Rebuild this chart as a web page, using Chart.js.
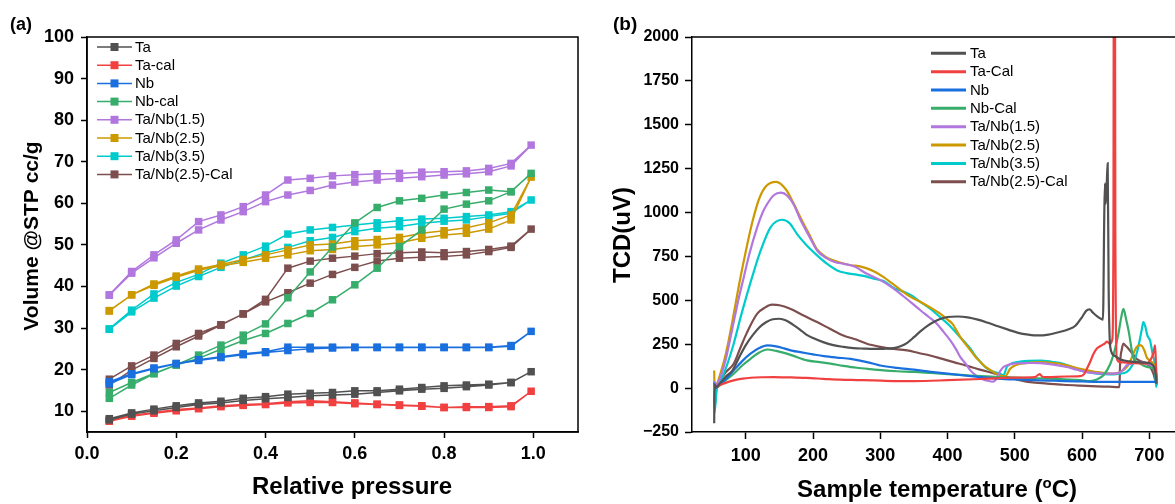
<!DOCTYPE html>
<html>
<head>
<meta charset="utf-8">
<script src="https://cdn.jsdelivr.net/npm/chart.js@4.4.0/dist/chart.umd.min.js"></script>
<style>
html, body { margin: 0; padding: 0; overflow: hidden; background: #fff; width: 1175px; height: 504px; }
#boxA { position: absolute; left: 0; top: 0; width: 600px; height: 504px; }
#boxB { position: absolute; left: 600px; top: 0; width: 600px; height: 504px; }
</style>
</head>
<body>
<div id="boxA"><canvas id="chartA" width="600" height="504"></canvas></div>
<div id="boxB"><canvas id="chartB" width="600" height="504"></canvas></div>
<script>
// ---------- panel (a): N2 isotherms ----------
const pAds = [0.05, 0.10, 0.15, 0.20, 0.25, 0.30, 0.35, 0.40, 0.45, 0.50, 0.55, 0.60, 0.65, 0.70, 0.75, 0.80, 0.85, 0.90, 0.95, 0.995];
const pDes = [0.95, 0.90, 0.85, 0.80, 0.75, 0.70, 0.65, 0.60, 0.55, 0.50, 0.45, 0.40, 0.35, 0.30, 0.25, 0.20, 0.15, 0.10, 0.05];

const namesA = ['Ta', 'Ta-cal', 'Nb', 'Nb-cal', 'Ta/Nb(1.5)', 'Ta/Nb(2.5)', 'Ta/Nb(3.5)', 'Ta/Nb(2.5)-Cal'];
const xTicksA = [0, 0.2, 0.4, 0.6, 0.8, 1.0];
const yTicksA = [10, 20, 30, 40, 50, 60, 70, 80, 90, 100];

const taAds = [7.9, 9.3, 10.1, 10.9, 11.6, 12.0, 12.6, 13.0, 13.3, 13.7, 13.9, 14.1, 14.5, 14.9, 15.3, 15.5, 15.9, 16.3, 16.9, 19.5];
const taDes = [16.9, 16.5, 16.3, 16.1, 15.7, 15.3, 14.9, 14.9, 14.5, 14.3, 14.1, 13.5, 13.1, 12.4, 12.0, 11.3, 10.5, 9.6, 8.2];
const taCalAds = [7.6, 8.8, 9.5, 10.1, 10.6, 11.1, 11.4, 11.6, 12.0, 12.1, 12.1, 11.8, 11.6, 11.4, 11.2, 10.9, 10.9, 10.9, 11.1, 14.8];
const taCalDes = [11.3, 11.1, 11.1, 10.9, 11.3, 11.5, 11.7, 12.0, 12.3, 12.5, 12.3, 11.8, 11.6, 11.3, 10.8, 10.4, 9.7, 9.0, 7.7];
const nbAds = [16.6, 18.8, 20.2, 21.4, 22.2, 22.9, 23.6, 24.1, 24.6, 25.0, 25.2, 25.3, 25.3, 25.3, 25.3, 25.3, 25.3, 25.3, 25.6, 29.2];
const nbDes = [25.8, 25.4, 25.4, 25.4, 25.4, 25.4, 25.4, 25.4, 25.4, 25.4, 25.4, 24.3, 23.8, 23.1, 22.4, 21.5, 20.4, 19.0, 17.1];
const nbCalAds = [13.1, 16.3, 19.0, 21.1, 22.7, 24.9, 27.0, 28.7, 31.1, 33.5, 36.8, 40.4, 44.4, 49.6, 53.6, 58.6, 59.8, 60.6, 62.8, 67.2];
const nbCalDes = [62.8, 63.2, 62.6, 62.0, 61.2, 60.6, 59.0, 55.3, 49.5, 43.5, 37.3, 31.0, 28.3, 25.9, 23.5, 21.1, 19.1, 16.9, 14.5];
const tn15Ads = [37.9, 43.2, 46.9, 50.4, 53.6, 56.0, 58.0, 60.4, 62.0, 63.1, 64.4, 65.1, 65.6, 66.0, 66.4, 66.8, 67.1, 67.6, 69.0, 74.0];
const tn15Des = [69.6, 68.4, 67.8, 67.6, 67.5, 67.2, 67.1, 66.9, 66.6, 66.0, 65.6, 62.0, 59.2, 57.2, 55.6, 51.2, 47.6, 43.6, 38.0];
const tn25Ads = [34.1, 38.0, 40.3, 42.2, 43.9, 45.0, 45.8, 46.8, 47.6, 48.6, 48.9, 49.6, 50.0, 50.5, 51.6, 52.4, 52.8, 53.8, 56.0, 66.3];
const tn25Des = [57.2, 55.3, 54.1, 53.4, 52.8, 51.8, 51.3, 51.0, 50.2, 50.0, 48.8, 47.6, 46.5, 45.3, 44.2, 42.5, 40.6, 38.0, 34.2];
const tn35Ads = [29.7, 33.9, 37.2, 40.1, 42.4, 44.6, 46.4, 48.1, 49.4, 51.0, 51.8, 53.2, 54.0, 54.4, 55.2, 55.7, 56.0, 56.8, 57.6, 60.8];
const tn35Des = [58.0, 57.2, 56.8, 56.4, 56.2, 55.8, 55.3, 54.8, 54.2, 53.6, 52.6, 49.7, 47.6, 45.6, 42.9, 41.0, 38.2, 34.3, 29.8];
const tn25CalAds = [16.3, 19.9, 22.7, 25.5, 28.1, 30.7, 33.4, 36.3, 38.5, 40.8, 42.9, 44.6, 46.1, 46.8, 47.0, 47.2, 47.6, 48.4, 49.4, 53.8];
const tn25CalDes = [49.7, 48.9, 48.4, 48.1, 48.3, 48.1, 47.9, 47.3, 46.8, 46.1, 44.4, 36.9, 33.4, 30.8, 28.7, 26.3, 23.5, 20.9, 17.7];

// ---------- panel (b): TPD curves ----------
const namesB = ['Ta', 'Ta-Cal', 'Nb', 'Nb-Cal', 'Ta/Nb(1.5)', 'Ta/Nb(2.5)', 'Ta/Nb(3.5)', 'Ta/Nb(2.5)-Cal'];
const xTicksB = [100, 200, 300, 400, 500, 600, 700];
const yTicksB = [-250, 0, 250, 500, 750, 1000, 1250, 1500, 1750, 2000];

const tTa = [53, 53.5, 56, 60, 70, 80, 90, 100, 110, 120, 130, 140, 150, 160, 170, 180, 190, 200, 215, 230, 245, 260, 275, 290, 305, 320, 330, 340, 350, 360, 370, 380, 390, 400, 415, 430, 445, 460, 475, 490, 505, 520, 535, 550, 565, 580, 590, 600, 606, 611, 616, 622, 628, 631, 633, 634, 635, 636.5, 638, 639.5, 642, 648, 656, 670, 686, 700, 708, 711];
const vTa = [-200, 20, 5, 20, 65, 100, 175, 245, 300, 345, 375, 392, 395, 385, 362, 335, 305, 285, 262, 245, 235, 228, 225, 223, 224, 228, 238, 258, 290, 325, 355, 378, 395, 405, 408, 403, 390, 372, 352, 333, 315, 305, 300, 305, 318, 335, 355, 405, 440, 448, 430, 410, 395, 390, 1000, 1167, 1050, 1150, 1281, 550, 230, 185, 165, 152, 147, 142, 110, 25];

const tTaCal = [53, 55, 60, 70, 82, 95, 107, 125, 142, 165, 190, 215, 240, 265, 290, 320, 350, 400, 450, 500, 530, 537, 541, 548, 575, 597, 603, 607, 612, 617, 622, 629, 634, 637, 641.5, 645, 646.6, 647.3, 648.6, 649.4, 651.5, 656, 676, 696, 703, 706, 708.5, 710, 711];
const vTaCal = [10, 5, 15, 30, 44, 54, 59, 62, 63, 61, 58, 53, 48, 46, 44, 40, 40, 45, 52, 60, 63, 80, 65, 63, 66, 68, 80, 110, 150, 196, 225, 243, 255, 265, 251, 280, 900, 3000, 3000, 900, 170, 148, 142, 140, 170, 200, 243, 120, 43];

const tNb = [53, 55, 60, 70, 82, 95, 107, 120, 132, 145, 157, 170, 181, 200, 216, 235, 256, 275, 290, 300, 325, 350, 375, 400, 425, 450, 475, 500, 525, 550, 575, 600, 625, 650, 675, 700, 708, 711];
const vNb = [30, 0, 15, 50, 101, 155, 196, 228, 243, 238, 226, 212, 205, 192, 182, 174, 167, 152, 139, 129, 115, 105, 93, 82, 72, 63, 54, 49, 46, 43, 40, 38, 36, 36, 36, 36, 36, 27];

const tNbCal = [53, 55, 60, 70, 82, 95, 107, 120, 132, 145, 157, 170, 191, 210, 226, 245, 265, 285, 305, 325, 350, 375, 400, 425, 450, 475, 500, 525, 550, 575, 597, 612, 622, 632, 642, 648, 654, 658, 661.4, 665, 669, 676, 684, 691, 700, 706, 711];
const vNbCal = [20, 0, 12, 45, 82, 130, 167, 203, 220, 212, 201, 185, 158, 148, 139, 127, 116, 108, 101, 96, 92, 86, 80, 74, 68, 63, 60, 57, 54, 50, 46, 40, 49, 75, 139, 210, 310, 400, 452, 400, 329, 177, 145, 129, 118, 110, 54];

const tTn15 = [53, 53.5, 57, 62, 70, 80, 90, 97, 105, 117, 125, 132, 142, 152, 162, 172, 181, 195, 206, 220, 232, 246, 260, 280, 300, 315, 330, 345, 360, 372, 384, 394, 404, 412, 419, 427, 434, 441, 449, 458, 468, 471, 474, 478, 483, 490, 498, 510, 525, 538, 555, 577, 592, 607, 622, 637, 650, 657, 662, 666, 674, 681, 689, 696, 703, 706, 709, 711];
const vTn15 = [40, 10, 20, 60, 160, 340, 520, 632, 760, 917, 1000, 1050, 1100, 1113, 1095, 1040, 960, 860, 784, 740, 718, 708, 695, 651, 615, 580, 537, 490, 442, 405, 367, 320, 272, 225, 177, 138, 101, 75, 54, 44, 37, 45, 63, 95, 120, 132, 139, 142, 143, 142, 135, 120, 105, 91, 85, 82, 84, 91, 110, 129, 140, 148, 147, 140, 130, 120, 100, 60];

const tTn25 = [53, 53.5, 57, 62, 70, 80, 90, 100, 110, 120, 130, 145, 160, 170, 181, 195, 206, 220, 231, 245, 256, 268, 280, 293, 305, 318, 330, 345, 360, 375, 389, 400, 407, 413, 419, 427, 434, 441, 449, 456, 464, 471, 478, 486, 490, 493, 500, 508, 522, 538, 552, 567, 582, 597, 610, 622, 634, 647, 656, 664, 671, 676, 681, 685, 689, 693, 696, 701, 706, 709, 711];
const vTn25 = [100, 0, 20, 80, 190, 380, 590, 780, 950, 1080, 1150, 1175, 1130, 1060, 974, 870, 790, 745, 727, 710, 700, 695, 682, 660, 632, 595, 560, 520, 490, 458, 424, 390, 367, 330, 290, 250, 215, 180, 148, 122, 101, 85, 72, 68, 90, 110, 128, 139, 145, 148, 145, 139, 125, 110, 100, 91, 86, 82, 91, 110, 148, 195, 233, 245, 240, 210, 176, 155, 140, 110, 63];

const tTn35 = [53, 53.5, 57, 62, 70, 82, 92, 102, 112, 122, 137, 154, 165, 176, 190, 206, 220, 236, 250, 265, 280, 290, 305, 320, 330, 345, 360, 375, 389, 402, 414, 424, 434, 441, 449, 456, 464, 471, 478, 483, 488, 495, 503, 520, 538, 555, 572, 585, 597, 610, 622, 634, 647, 656, 666, 673, 678, 682, 686, 689, 691, 694, 697, 701, 705, 708.5, 710, 711];
const vTn35 = [40, -142, 10, 40, 110, 253, 400, 537, 665, 783, 917, 959, 940, 879, 815, 756, 710, 670, 655, 646, 635, 623, 610, 570, 556, 530, 490, 450, 404, 360, 310, 268, 224, 185, 148, 120, 101, 90, 82, 72, 120, 140, 148, 155, 157, 150, 139, 120, 101, 90, 82, 79, 78, 82, 91, 120, 160, 210, 280, 340, 376, 350, 300, 272, 190, 120, 6, 60];

const tTn25Cal = [53, 53.5, 57, 62, 70, 82, 92, 102, 117, 129, 139, 150, 166, 185, 206, 225, 245, 265, 280, 300, 315, 340, 357, 374, 391, 409, 428, 448, 468, 488, 505, 523, 548, 572, 597, 622, 640, 655.5, 656.5, 659, 661.4, 665, 669, 675, 681, 688, 696, 702, 706, 709, 711];
const vTn25Cal = [30, -110, 15, 45, 90, 139, 230, 319, 424, 460, 475, 472, 452, 415, 376, 338, 300, 275, 253, 235, 225, 215, 200, 186, 168, 148, 128, 105, 85, 63, 47, 34, 26, 19, 14, 10, 8, 6, 140, 220, 253, 240, 224, 195, 167, 152, 140, 115, 82, 40, 15];

// ---------- styles ----------
const colors = ['#515151', '#F14040', '#1A6FDF', '#37AD6B', '#B177DE', '#CC9900', '#00CBCC', '#7D4E4E'];
const FONT = 'Arial, "Liberation Sans", Helvetica, sans-serif';

const seriesA = [[taAds, taDes], [taCalAds, taCalDes], [nbAds, nbDes], [nbCalAds, nbCalDes],
  [tn15Ads, tn15Des], [tn25Ads, tn25Des], [tn35Ads, tn35Des], [tn25CalAds, tn25CalDes]];
const seriesB = [[tTa, vTa], [tTaCal, vTaCal], [tNb, vNb], [tNbCal, vNbCal],
  [tTn15, vTn15], [tTn25, vTn25], [tTn35, vTn35], [tTn25Cal, vTn25Cal]];

function loopData(ads, des) {
  const up = pAds.map((p, i) => ({ x: p, y: ads[i] }));
  const down = pDes.map((p, i) => ({ x: p, y: des[i] }));
  return up.concat(down);
}

function axisStyle(tl) {
  return {
    grid: { drawOnChartArea: false, drawTicks: true, tickLength: tl, tickWidth: 1.5, tickColor: '#000' },
    border: { display: true, color: '#000', width: 1.5 }
  };
}

// box around the plot area
const frameA = {
  id: 'frameA',
  afterDatasetsDraw(chart) {
    const a = chart.chartArea, ctx = chart.ctx;
    ctx.save();
    ctx.strokeStyle = '#000';
    ctx.lineWidth = 1.5;
    ctx.strokeRect(a.left, a.top, a.right - a.left, a.bottom - a.top);
    ctx.restore();
  }
};

const legendA = {
  id: 'legendA',
  afterDraw(chart) {
    const ctx = chart.ctx;
    ctx.save();
    ctx.font = '15px ' + FONT;
    ctx.textBaseline = 'middle';
    chart.data.datasets.forEach((ds, i) => {
      const y = 47 + i * 18.2;
      ctx.strokeStyle = ds.borderColor;
      ctx.lineWidth = 1.5;
      ctx.beginPath(); ctx.moveTo(97, y); ctx.lineTo(132, y); ctx.stroke();
      ctx.fillStyle = ds.borderColor;
      ctx.fillRect(110.5, y - 4, 8, 8);
      ctx.fillStyle = '#000';
      ctx.fillText(ds.label, 135, y + 0.5);
    });
    ctx.restore();
  }
};

const textA = {
  id: 'textA',
  afterDraw(chart) {
    const ctx = chart.ctx;
    ctx.save();
    ctx.fillStyle = '#000';
    ctx.font = 'bold 18px ' + FONT;
    ctx.textBaseline = 'middle';
    ctx.textAlign = 'left';
    ctx.fillText('(a)', 10, 25);
    ctx.font = 'bold 24px ' + FONT;
    ctx.textAlign = 'center';
    ctx.textBaseline = 'alphabetic';
    ctx.fillText('Relative pressure', 352, 494);
    ctx.translate(32, 236);
    ctx.rotate(-Math.PI / 2);
    ctx.font = 'bold 21px ' + FONT;
    ctx.textBaseline = 'middle';
    ctx.fillText('Volume @STP cc/g', 0, 0);
    ctx.restore();
  }
};

new Chart(document.getElementById('chartA'), {
  type: 'line',
  data: {
    datasets: seriesA.map((s, i) => ({
      label: namesA[i],
      data: loopData(s[0], s[1]),
      borderColor: colors[i],
      backgroundColor: colors[i],
      borderWidth: 1.5,
      pointStyle: 'rect',
      pointRadius: 5.3,
      pointBorderWidth: 0,
      tension: 0,
      fill: false
    }))
  },
  options: {
    responsive: false,
    animation: false,
    events: [],
    layout: { padding: { left: 0, top: 37, right: 22, bottom: 0 } },
    plugins: { legend: { display: false }, tooltip: { enabled: false } },
    scales: {
      x: Object.assign(axisStyle(6), {
        type: 'linear', min: 0, max: 1.1,
        afterBuildTicks: s => { s.ticks = xTicksA.map(v => ({ value: v })); },
        afterFit: s => { s.height = 72; },
        ticks: { callback: v => v.toFixed(1), color: '#000', padding: 5, maxRotation: 0, autoSkip: false,
          font: { family: FONT, size: 18, weight: 'bold' } }
      }),
      y: Object.assign(axisStyle(6), {
        type: 'linear', min: 5, max: 100,
        afterBuildTicks: s => { s.ticks = yTicksA.map(v => ({ value: v })); },
        afterFit: s => { s.width = 87; },
        ticks: { color: '#000', padding: 7, autoSkip: false,
          font: { family: FONT, size: 18, weight: 'bold' } }
      })
    }
  },
  plugins: [frameA, legendA, textA]
});

// ---------- chart B ----------
const frameB = {
  id: 'frameB',
  afterDatasetsDraw(chart) {
    const a = chart.chartArea, ctx = chart.ctx;
    ctx.save();
    ctx.strokeStyle = '#000';
    ctx.lineWidth = 1.5;
    ctx.beginPath();
    ctx.moveTo(a.left, a.top); ctx.lineTo(a.right, a.top); ctx.lineTo(a.right, a.bottom);
    ctx.stroke();
    ctx.restore();
  }
};

const legendB = {
  id: 'legendB',
  afterDraw(chart) {
    const ctx = chart.ctx;
    ctx.save();
    ctx.font = '15px ' + FONT;
    ctx.textBaseline = 'middle';
    chart.data.datasets.forEach((ds, i) => {
      const y = 53.3 + i * 18.35;
      ctx.strokeStyle = ds.borderColor;
      ctx.lineWidth = 3;
      ctx.beginPath(); ctx.moveTo(331, y); ctx.lineTo(366, y); ctx.stroke();
      ctx.fillStyle = '#000';
      ctx.fillText(ds.label, 370, y + 0.5);
    });
    ctx.restore();
  }
};

const textB = {
  id: 'textB',
  afterDraw(chart) {
    const ctx = chart.ctx;
    ctx.save();
    ctx.fillStyle = '#000';
    ctx.font = 'bold 19px ' + FONT;
    ctx.textBaseline = 'middle';
    ctx.fillText('(b)', 13, 25);

    // x title with superscript
    const p1 = 'Sample temperature (', p2 = 'o', p3 = 'C)';
    ctx.textBaseline = 'alphabetic';
    ctx.font = 'bold 24px ' + FONT;
    const w1 = ctx.measureText(p1).width, w3 = ctx.measureText(p3).width;
    ctx.font = 'bold 15px ' + FONT;
    const w2 = ctx.measureText(p2).width;
    let x = 337 - (w1 + w2 + w3) / 2;
    const base = 497;
    ctx.font = 'bold 24px ' + FONT;
    ctx.fillText(p1, x, base); x += w1;
    ctx.font = 'bold 15px ' + FONT;
    ctx.fillText(p2, x, base - 9); x += w2;
    ctx.font = 'bold 24px ' + FONT;
    ctx.fillText(p3, x, base);

    ctx.translate(23, 235);
    ctx.rotate(-Math.PI / 2);
    ctx.textAlign = 'center';
    ctx.textBaseline = 'middle';
    ctx.fillText('TCD(uV)', 0, 0);
    ctx.restore();
  }
};

new Chart(document.getElementById('chartB'), {
  type: 'line',
  data: {
    datasets: seriesB.map((s, i) => ({
      label: namesB[i],
      data: s[0].map((t, j) => ({ x: t, y: s[1][j] })),
      borderColor: colors[i],
      backgroundColor: colors[i],
      borderWidth: 2.2,
      pointRadius: 0,
      cubicInterpolationMode: 'monotone',
      fill: false
    }))
  },
  options: {
    responsive: false,
    animation: false,
    events: [],
    layout: { padding: { left: 0, top: 37, right: 17, bottom: 0 } },
    plugins: { legend: { display: false }, tooltip: { enabled: false } },
    scales: {
      x: Object.assign(axisStyle(7), {
        type: 'linear', min: 20, max: 750,
        afterBuildTicks: s => { s.ticks = xTicksB.map(v => ({ value: v })); },
        afterFit: s => { s.height = 72; },
        ticks: { color: '#000', padding: 6, maxRotation: 0, autoSkip: false,
          font: { family: FONT, size: 18, weight: 'bold' } }
      }),
      y: Object.assign(axisStyle(7), {
        type: 'linear', min: -250, max: 2000,
        afterBuildTicks: s => { s.ticks = yTicksB.map(v => ({ value: v })); },
        afterFit: s => { s.width = 92; },
        ticks: { color: '#000', padding: 6, autoSkip: false,
          callback: v => (v < 0 ? '\u2212' + Math.abs(v) : String(v)),
          font: { family: FONT, size: 16, weight: 'bold' } }
      })
    }
  },
  plugins: [frameB, legendB, textB]
});
</script>
</body>
</html>
